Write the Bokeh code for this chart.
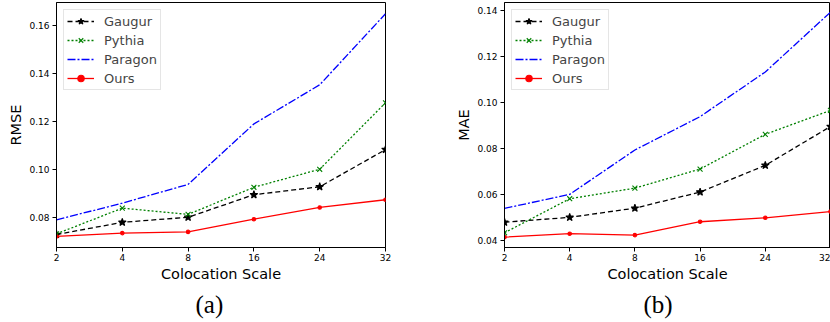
from bokeh.plotting import figure
from bokeh.layouts import row
from bokeh.models import Range1d, FixedTicker, PrintfTickFormatter, Legend, LegendItem, Title
from bokeh.embed import file_html
from bokeh.resources import INLINE

# ---- data ----
scales = ["2", "4", "8", "16", "24", "32"]
series_names = ["Gaugur", "Pythia", "Paragon", "Ours"]

rmse_gaugur = [0.0729, 0.0780, 0.0801, 0.0895, 0.0928, 0.1083]
rmse_pythia = [0.0732, 0.0839, 0.0813, 0.0926, 0.1001, 0.1278]
rmse_paragon = [0.0790, 0.0860, 0.0938, 0.1190, 0.1353, 0.1649]
rmse_ours = [0.0721, 0.0735, 0.0740, 0.0793, 0.0842, 0.0874]

mae_gaugur = [0.0481, 0.0502, 0.0542, 0.0612, 0.0728, 0.0897]
mae_pythia = [0.0435, 0.0583, 0.0629, 0.0712, 0.0863, 0.0967]
mae_paragon = [0.0541, 0.0602, 0.0795, 0.0940, 0.1134, 0.1394]
mae_ours = [0.0416, 0.0431, 0.0425, 0.0483, 0.0500, 0.0527]

rmse_ticks = [0.08, 0.10, 0.12, 0.14, 0.16]
mae_ticks = [0.04, 0.06, 0.08, 0.10, 0.12, 0.14]

FONT = "DejaVu Sans"

styles = {
    "Gaugur": dict(color="black", dash="5 3", marker="star", msize=8),
    "Pythia": dict(color="#008000", dash="2 2", marker="x", msize=7),
    "Paragon": dict(color="#0000ff", dash="8 2 2 2", marker=None, msize=0),
    "Ours": dict(color="#ff0000", dash="solid", marker="circle", msize=3.5),
}


def make_panel(values, ylabel, ticks, y0, y1, caption, width, mbl, mbr, cap_off):
    xs = list(range(len(scales)))
    p = figure(width=width, height=322, output_backend="svg", toolbar_location=None,
               x_range=Range1d(0, len(scales) - 1), y_range=Range1d(y0, y1),
               min_border_left=mbl, min_border_right=mbr, min_border_top=2,
               min_border_bottom=75)
    p.grid.visible = False
    p.outline_line_color = "black"
    p.outline_line_width = 1
    p.background_fill_color = "white"
    p.border_fill_color = "white"

    for ax in (p.xaxis[0], p.yaxis[0]):
        ax.axis_line_color = "black"
        ax.major_tick_line_color = "black"
        ax.major_tick_out = 4
        ax.major_tick_in = 0
        ax.minor_tick_line_color = None
        ax.major_label_text_font = FONT
        ax.major_label_text_font_size = "9px"
        ax.major_label_text_color = "black"
        ax.axis_label_text_font = FONT
        ax.axis_label_text_font_size = "14.5px"
        ax.axis_label_text_font_style = "normal"
        ax.axis_label_text_color = "black"
        ax.major_label_standoff = 3

    p.xaxis.ticker = FixedTicker(ticks=xs)
    p.xaxis.major_label_overrides = {i: s for i, s in enumerate(scales)}
    p.xaxis.axis_label = "Colocation Scale"
    p.xaxis.major_label_standoff = 2
    p.xaxis.axis_label_standoff = 2

    p.yaxis.ticker = FixedTicker(ticks=ticks)
    p.yaxis.formatter = PrintfTickFormatter(format="%.2f")
    p.yaxis.axis_label = ylabel
    p.yaxis.axis_label_standoff = 2

    items = []
    for name in series_names:
        st = styles[name]
        rs = []
        r = p.line(xs, values[name], line_color=st["color"], line_width=1.3,
                   line_dash=st["dash"])
        rs.append(r)
        if st["marker"]:
            m = p.scatter(xs, values[name], marker=st["marker"], size=st["msize"],
                          line_color=st["color"], fill_color=st["color"], line_width=1.1)
            rs.append(m)
        items.append(LegendItem(label=name, renderers=rs))

    legend = Legend(items=items, location="top_left", margin=7, padding=3, spacing=3,
                    glyph_width=27, glyph_height=16, label_height=16, label_standoff=10,
                    label_text_font=FONT, label_text_font_size="13px",
                    border_line_color="#cccccc", border_line_width=1,
                    background_fill_color="white", background_fill_alpha=0.8)
    p.add_layout(legend)

    cap = Title(text=caption, align="left", offset=cap_off, standoff=9,
                text_font="Liberation Serif", text_font_size="25px",
                text_font_style="normal", text_color="black")
    p.add_layout(cap, "below")
    return p


rmse = {"Gaugur": rmse_gaugur, "Pythia": rmse_pythia, "Paragon": rmse_paragon, "Ours": rmse_ours}
mae = {"Gaugur": mae_gaugur, "Pythia": mae_pythia, "Paragon": mae_paragon, "Ours": mae_ours}

p1 = make_panel(rmse, "RMSE", rmse_ticks, 0.0675, 0.1696, "(a)", 420, 56, 35, 139)
p2 = make_panel(mae, "MAE", mae_ticks, 0.0371, 0.1436, "(b)", 410, 84, 0, 139)

layout = row(p1, p2)
open("out.html", "w").write(file_html(layout, INLINE))
